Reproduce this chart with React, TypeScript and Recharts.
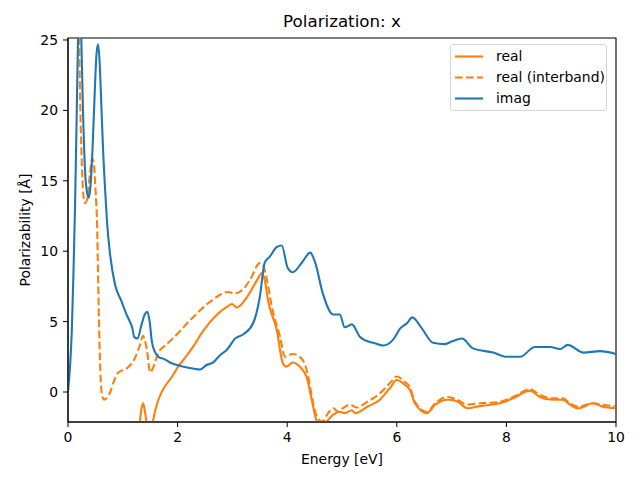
import React from "react";
import {
  LineChart,
  Line,
  XAxis,
  YAxis,
  Legend,
  Label,
  ReferenceArea,
} from "recharts";

// Values (energy in eV, polarizability in Å)
const imagEnergy = [
  0, 0.04, 0.07, 0.1, 0.13, 0.16, 0.19, 0.21, 0.24, 0.27, 0.31, 0.35, 0.38,
  0.41, 0.45, 0.49, 0.52, 0.55, 0.58, 0.61, 0.64, 0.68, 0.71, 0.77, 0.86,
  0.97, 1.08, 1.13, 1.17, 1.21, 1.27, 1.33, 1.4, 1.45, 1.49, 1.53, 1.58,
  1.65, 1.75, 1.86, 2.05, 2.3, 2.41, 2.52, 2.65, 2.77, 2.9, 3.05, 3.2, 3.38,
  3.5, 3.59, 3.68, 3.81, 3.9, 4.01, 4.1, 4.27, 4.42, 4.51, 4.65, 4.84, 4.96,
  5.05, 5.18, 5.33, 5.51, 5.57, 5.75, 5.93, 6.06, 6.19, 6.28, 6.46, 6.66,
  6.88, 7.01, 7.19, 7.39, 7.76, 8.01, 8.25, 8.52, 8.8, 8.98, 9.12, 9.4, 9.71,
  10,
];
const imagValues = [
  0, 2.0, 4.4, 8.5, 13.5, 20, 26.5, 28, 25.5, 20.5, 15.8, 14.1, 13.8, 14.6,
  17.5, 21.5, 24, 24.7, 23.2, 20.2, 17.2, 14.2, 12.2, 9.7, 7.6, 6.5, 5.4, 5.0,
  4.6, 3.9, 3.8, 4.6, 5.5, 5.7, 5.0, 3.6, 2.9, 2.5, 2.35, 2.1, 1.85, 1.65,
  1.6, 1.9, 2.1, 2.6, 3.0, 3.8, 4.1, 4.9, 6.75, 9.2, 9.6, 10.3, 10.4, 8.8,
  8.5, 9.2, 9.9, 9.2, 7.0, 5.5, 5.5, 4.6, 4.8, 3.9, 3.55, 3.5, 3.3, 3.7, 4.5,
  4.9, 5.3, 4.5, 3.5, 3.4, 3.6, 3.8, 3.1, 2.8, 2.5, 2.5, 3.2, 3.2, 3.05, 3.35,
  2.8, 2.9, 2.7,
];

const interEnergy = [
  0, 0.1, 0.17, 0.2, 0.22, 0.25, 0.28, 0.31, 0.35, 0.4, 0.44, 0.47, 0.5,
  0.53, 0.56, 0.59, 0.62, 0.66, 0.7, 0.77, 0.85, 0.91, 1.08, 1.22, 1.31,
  1.37, 1.4, 1.44, 1.5, 1.55, 1.65, 1.77, 1.86, 2.23, 2.59, 2.92, 3.05, 3.18,
  3.32, 3.5, 3.56, 3.63, 3.72, 3.87, 3.96, 4.1, 4.23, 4.36, 4.45, 4.51, 4.56,
  4.64, 4.73, 4.84, 4.93, 5.02, 5.15, 5.27, 5.46, 5.69, 5.88, 6.0, 6.15,
  6.24, 6.33, 6.55, 6.7, 6.93, 7.1, 7.28, 7.52, 7.88, 8.12, 8.43, 8.61, 8.85,
  9.03, 9.16, 9.31, 9.58, 9.76, 9.98,
];
const interValues = [
  40, 36, 30, 25.5, 21, 16.5, 14, 13.4, 13.7, 15.5, 16.6, 16.3, 14.5, 12.0,
  6.0, 1.5, -0.2, -0.55, -0.45, 0.0, 0.9, 1.35, 1.7, 2.4, 3.3, 4.0, 3.7, 3.0,
  1.4, 1.7, 2.8, 3.3, 3.6, 5.1, 6.4, 7.1, 7.0, 7.25, 7.95, 9.15, 9.0, 7.95,
  6.05, 3.9, 2.5, 2.7, 2.5, 1.5, -0.3, -1.4, -1.85, -2.1, -1.6, -1.15, -1.4,
  -1.15, -0.9, -1.1, -0.7, -0.1, 0.65, 1.1, 0.7, 0.35, -0.7, -1.4, -0.8,
  -0.35, -0.55, -0.9, -0.8, -0.7, -0.35, 0.2, -0.2, -0.45, -0.45, -0.8,
  -1.05, -0.8, -0.9, -1.0,
];

const realEnergy = [
  0.9, 1.1, 1.25, 1.31, 1.34, 1.37, 1.4, 1.44, 1.48, 1.53, 1.55, 1.62, 1.73,
  1.9, 2.01, 2.17, 2.28, 2.46, 2.72, 2.92, 2.99, 3.08, 3.27, 3.45, 3.54, 3.59,
  3.65, 3.81, 3.92, 3.99, 4.1, 4.23, 4.36, 4.45, 4.54, 4.62, 4.72, 4.84, 4.96,
  5.05, 5.18, 5.24, 5.46, 5.69, 5.88, 6.0, 6.15, 6.24, 6.33, 6.55, 6.7, 6.93,
  7.1, 7.28, 7.52, 7.88, 8.12, 8.43, 8.61, 8.85, 9.03, 9.16, 9.31, 9.58,
  9.76, 9.98,
];
const realValues = [
  -40, -20, -6, -2.2, -1.2, -0.8, -1.3, -2.4, -3.5, -2.6, -2.1, -0.9, 0.15,
  1.1, 1.8, 2.6, 3.2, 4.3, 5.5, 6.1, 6.25, 6.0, 6.75, 7.95, 8.45, 7.95, 6.5,
  4.4, 2.05, 1.8, 2.1, 1.8, 1.0, -0.6, -2.1, -2.5, -2.1, -1.6, -1.4, -1.5,
  -1.3, -1.5, -1.05, -0.55, 0.3, 0.85, 0.5, 0.15, -0.8, -1.5, -0.9, -0.55,
  -0.65, -1.15, -1.0, -0.8, -0.45, 0.1, -0.35, -0.55, -0.55, -0.9, -1.15,
  -0.8, -1.05, -1.15,
];

const xTicks = [0, 2, 4, 6, 8, 10];
const yTicks = [0, 5, 10, 15, 20, 25];

const zip = (xs: number[], ys: number[]) =>
  xs.map((x, i) => ({ energy: x, value: ys[i] }));

const imagData = zip(imagEnergy, imagValues);
const interData = zip(interEnergy, interValues);
const realData = zip(realEnergy, realValues);

const ORANGE = "#ff7f0e";
const BLUE = "#1f77b4";
const FONT = "'DejaVu Sans', sans-serif";
const Y_MIN = -2.13;
const Y_MAX = 25.14;

const legendItems = [
  { name: "real", color: ORANGE, dash: undefined },
  { name: "real (interband)", color: ORANGE, dash: "7.7 3.3" },
  { name: "imag", color: BLUE, dash: undefined },
];

function LegendBox() {
  return (
    <div
      style={{
        width: 157,
        height: 65,
        border: "1px solid #d6d6d6",
        borderRadius: 3,
        background: "rgba(255,255,255,0.8)",
        fontFamily: FONT,
        fontSize: 13.9,
        paddingTop: 0.5,
        boxSizing: "border-box",
        minHeight: 67,
      }}
    >
      {legendItems.map((it) => (
        <div
          key={it.name}
          style={{ display: "flex", alignItems: "center", height: 21 }}
        >
          <svg width={45} height={21} style={{ flex: "none" }}>
            <line
              x1={4}
              x2={32}
              y1={10.5}
              y2={10.5}
              stroke={it.color}
              strokeWidth={2.1}
              strokeDasharray={it.dash}
            />
          </svg>
          <span style={{ color: "#000", whiteSpace: "nowrap" }}>{it.name}</span>
        </div>
      ))}
    </div>
  );
}

export default function App() {
  return (
    <div
      style={{
        position: "absolute",
        left: 0,
        top: 0,
        width: 640,
        height: 480,
        background: "#fff",
        fontFamily: FONT,
      }}
    >
      <div
        style={{
          position: "absolute",
          left: 68,
          top: 11,
          width: 548,
          textAlign: "center",
          fontSize: 16.7,
          lineHeight: "20px",
          color: "#000",
        }}
      >
        Polarization: x
      </div>

      <LineChart
        width={640}
        height={480}
        margin={{ top: 38, right: 24, bottom: 0, left: 0 }}
      >
        <XAxis
          dataKey="energy"
          type="number"
          domain={[0, 10]}
          ticks={xTicks}
          allowDataOverflow
          height={58}
          tickSize={5}
          tickMargin={5}
          stroke="#000"
          tick={{ fontSize: 13.9, fill: "#000", fontFamily: FONT }}
        >
          <Label
            value="Energy [eV]"
            position="insideBottom"
            offset={16}
            style={{ fontSize: 13.9, fill: "#000", fontFamily: FONT }}
          />
        </XAxis>
        <YAxis
          type="number"
          domain={[Y_MIN, Y_MAX]}
          ticks={yTicks}
          allowDataOverflow
          width={68}
          tickSize={5}
          tickMargin={5}
          stroke="#000"
          tick={{ fontSize: 13.9, fill: "#000", fontFamily: FONT }}
        >
          <Label
            content={({ viewBox }: any) => {
              const cy = viewBox.y + viewBox.height / 2;
              return (
                <text
                  x={25}
                  y={cy}
                  transform={`rotate(-90, 25, ${cy})`}
                  textAnchor="middle"
                  dominantBaseline="central"
                  style={{ fontSize: 13.9, fill: "#000", fontFamily: FONT }}
                >
                  Polarizability [Å]
                </text>
              );
            }}
          />
        </YAxis>

        <ReferenceArea
          x1={0}
          x2={10}
          y1={Y_MIN}
          y2={Y_MAX}
          fill="none"
          stroke="#000"
          strokeWidth={1.1}
          fillOpacity={0}
        />

        <Line
          data={realData}
          dataKey="value"
          name="real"
          type="monotone"
          stroke={ORANGE}
          strokeWidth={2.1}
          dot={false}
          activeDot={false}
          isAnimationActive={false}
        />
        <Line
          data={interData}
          dataKey="value"
          name="real (interband)"
          type="monotone"
          stroke={ORANGE}
          strokeWidth={2.1}
          strokeDasharray="7.7 3.3"
          dot={false}
          activeDot={false}
          isAnimationActive={false}
        />
        <Line
          data={imagData}
          dataKey="value"
          name="imag"
          type="monotone"
          stroke={BLUE}
          strokeWidth={2.1}
          dot={false}
          activeDot={false}
          isAnimationActive={false}
        />

        <Legend
          layout="horizontal"
          verticalAlign="middle"
          align="center"
          content={() => <LegendBox />}
          wrapperStyle={{ top: 44, left: 450, width: 159, height: 67 }}
        />
      </LineChart>
    </div>
  );
}
